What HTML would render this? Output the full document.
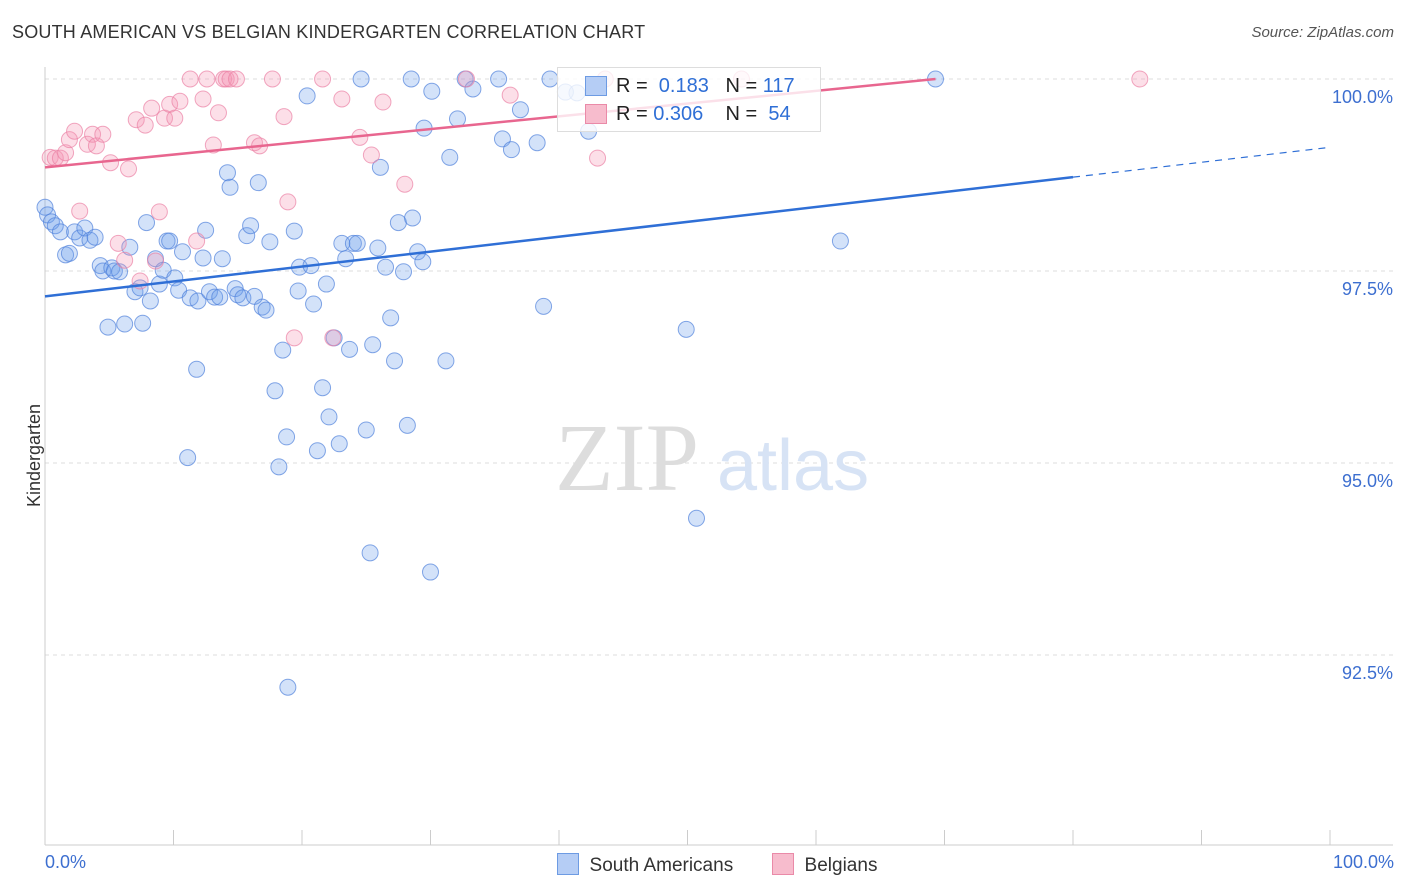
<!DOCTYPE html>
<html><head><meta charset="utf-8"><style>
body{margin:0;background:#fff;font-family:"Liberation Sans",sans-serif;}
#wrap{position:relative;width:1406px;height:892px;overflow:hidden;}
.t{position:absolute;white-space:nowrap;}
</style></head><body>
<div id="wrap">
<div class="t" style="left:12px;top:22px;font-size:18px;color:#333;letter-spacing:0.2px">SOUTH AMERICAN VS BELGIAN KINDERGARTEN CORRELATION CHART</div>
<div class="t" style="right:12px;top:24px;font-size:15px;color:#555;font-style:italic">Source: ZipAtlas.com</div>
<svg id="svg" width="1406" height="892" style="position:absolute;left:0;top:0"></svg>
</div>
<script>
const blueX=[0.0,0.2,0.5,0.8,1.2,1.6,1.9,2.3,2.7,3.1,3.5,3.9,4.3,4.5,4.9,5.2,5.4,5.8,6.2,6.6,7.0,7.4,7.6,7.9,8.2,8.6,8.9,9.2,9.5,9.7,10.1,10.4,10.7,11.1,11.3,11.8,11.9,12.3,12.5,12.8,13.2,13.6,13.8,14.2,14.4,14.8,15.0,15.4,15.7,16.0,16.3,16.6,16.9,17.2,17.5,17.9,18.2,18.5,18.8,18.9,19.4,19.7,19.8,20.4,20.7,20.9,21.2,21.6,21.9,22.1,22.5,22.9,23.1,23.4,23.7,24.0,24.3,24.6,25.0,25.3,25.5,25.9,26.1,26.5,26.9,27.2,27.5,27.9,28.2,28.5,28.6,29.0,29.4,29.5,30.0,30.1,31.2,31.5,32.1,32.7,33.3,35.3,35.6,36.3,37.0,38.3,38.8,39.3,40.5,41.4,42.3,49.9,50.7,61.9,69.3];
const blueY=[98.33,98.23,98.14,98.09,98.01,97.71,97.73,98.01,97.93,98.06,97.90,97.94,97.57,97.50,96.77,97.54,97.50,97.49,96.81,97.81,97.23,97.28,96.82,98.13,97.11,97.66,97.33,97.51,97.89,97.89,97.41,97.25,97.75,95.07,97.15,96.22,97.11,97.67,98.03,97.23,97.16,97.16,97.66,98.78,98.59,97.27,97.19,97.15,97.96,98.09,97.17,98.65,97.03,96.99,97.88,95.94,94.95,96.47,95.34,92.08,98.02,97.24,97.55,99.78,97.57,97.07,95.16,95.98,97.33,95.60,96.63,95.25,97.86,97.66,96.48,97.86,97.86,100,95.43,93.83,96.54,97.80,98.85,97.55,96.89,96.33,98.13,97.49,95.49,100,98.19,97.75,97.62,99.36,93.58,99.84,96.33,98.98,99.48,100,99.87,100,99.22,99.08,99.60,99.17,97.04,100,99.83,99.82,99.32,96.74,94.28,97.89,100];
const pinkX=[0.4,0.8,1.2,1.6,1.9,2.3,2.7,3.3,3.7,4.0,4.5,5.1,5.7,6.2,6.5,7.1,7.4,7.8,8.3,8.6,8.9,9.3,9.7,10.1,10.5,11.3,11.8,12.3,12.6,13.1,13.5,13.9,14.1,14.4,14.9,16.3,16.7,17.7,18.6,18.9,19.4,21.6,22.4,23.1,24.5,25.4,26.3,28.0,32.8,36.2,43.0,43.6,54.2,85.2];
const pinkY=[98.98,98.97,98.97,99.04,99.21,99.32,98.28,99.15,99.28,99.13,99.28,98.91,97.86,97.64,98.83,99.47,97.37,99.40,99.62,97.63,98.27,99.49,99.67,99.49,99.71,100,97.89,99.74,100,99.14,99.56,100,100,100,100,99.17,99.13,100,99.51,98.40,96.63,100,96.63,99.74,99.24,99.01,99.70,98.63,100,99.79,98.97,100,100,100];
const blueTrend=[97.17,99.11]; // y at x=0 and x=100
const pinkTrend=[98.85,100.0]; // y at x=0 and x=69.3
const yTicks=[100,97.5,95,92.5];
const yTickLabels=["100.0%","97.5%","95.0%","92.5%"];

const X0=45,X1=1330;
const sx=v=>X0+(v/100)*(X1-X0);
const sy=v=>79+(100-v)*76.8;
const svg=document.getElementById('svg');
const NS='http://www.w3.org/2000/svg';
function mk(tag,attrs,parent){const e=document.createElementNS(NS,tag);for(const k in attrs)e.setAttribute(k,attrs[k]);(parent||svg).appendChild(e);return e;}

// gridlines
yTicks.forEach((t,i)=>{
  const g=mk('line',{x1:45,x2:1393,y1:sy(t),y2:sy(t),stroke:'#ddd','stroke-dasharray':'4,4'});
  
  
  const tx=mk('text',{x:1393,y:sy(t)+24,'text-anchor':'end','font-size':18,fill:'#3d6fd0','font-family':'Liberation Sans, sans-serif'});
  tx.textContent=yTickLabels[i];
  
  
});
// axes
mk('line',{x1:45,x2:45,y1:67,y2:845,stroke:'#ccc'});
mk('line',{x1:45,x2:1393,y1:845,y2:845,stroke:'#ccc'});
for(let i=0;i<=10;i++){const x=sx(i*10);mk('line',{x1:x,x2:x,y1:830,y2:845,stroke:'#ccc'});}
// watermark
const wm=mk('text',{x:555,y:490,'font-size':96,fill:'#ddd','font-family':'Liberation Serif, serif'});wm.textContent='ZIP';

const wm2=mk('text',{x:717,y:490,'font-size':72,fill:'#d7e3f5','font-family':'Liberation Sans, sans-serif'});wm2.textContent='atlas';


// points
blueX.forEach((x,i)=>{const c=mk('circle',{cx:sx(x),cy:sy(blueY[i]),r:8,fill:'rgba(110,160,235,0.3)',stroke:'rgba(80,130,220,0.7)','stroke-width':1});
  });
pinkX.forEach((x,i)=>{const c=mk('circle',{cx:sx(x),cy:sy(pinkY[i]),r:8,fill:'rgba(245,150,180,0.3)',stroke:'rgba(235,130,165,0.7)','stroke-width':1});
  });

// trend lines
const bAt=x=>blueTrend[0]+(blueTrend[1]-blueTrend[0])*x/100;
let l=mk('line',{x1:sx(0),y1:sy(bAt(0)),x2:sx(80),y2:sy(bAt(80)),stroke:'#2f6fd6','stroke-width':2.5});

l=mk('line',{x1:sx(80),y1:sy(bAt(80)),x2:sx(100),y2:sy(bAt(100)),stroke:'#2f6fd6','stroke-width':1.2,'stroke-dasharray':'7,6'});

l=mk('line',{x1:sx(0),y1:sy(pinkTrend[0]),x2:sx(69.3),y2:sy(pinkTrend[1]),stroke:'#e8668f','stroke-width':2.5});

</script>
<div class="t" style="left:-17px;top:445px;font-size:18px;color:#333;transform:rotate(-90deg)">Kindergarten</div>
<div class="t" style="left:45px;top:852px;font-size:18px;color:#3d6fd0">0.0%</div>
<div class="t" style="right:12px;top:852px;font-size:18px;color:#3d6fd0">100.0%</div>
<div style="position:absolute;left:557px;top:67px;width:262px;height:63px;border:1px solid #ddd;background:rgba(255,255,255,0.8);font-size:20px;color:#222">
 <div style="position:absolute;left:27px;top:8px;width:20px;height:18px;background:#b5cdf5;border:1px solid #6d9be3"></div>
 <div class="t" style="left:58px;top:7px">R = &nbsp;<span style="color:#2f6fd6">0.183</span>&nbsp;&nbsp; N = <span style="color:#2f6fd6">117</span></div>
 <div style="position:absolute;left:27px;top:36px;width:20px;height:18px;background:#f7bccd;border:1px solid #ea8aa8"></div>
 <div class="t" style="left:58px;top:35px">R = <span style="color:#2f6fd6">0.306</span>&nbsp;&nbsp;&nbsp; N = &nbsp;<span style="color:#2f6fd6">54</span></div>
</div>
<div style="position:absolute;left:557px;top:853px;font-size:19px;color:#333">
 <span style="display:inline-block;width:20px;height:20px;background:#b5cdf5;border:1px solid #6d9be3;vertical-align:-4px"></span>&nbsp; South Americans</div>
<div style="position:absolute;left:772px;top:853px;font-size:19px;color:#333">
 <span style="display:inline-block;width:20px;height:20px;background:#f7bccd;border:1px solid #ea8aa8;vertical-align:-4px"></span>&nbsp; Belgians</div>
</body></html>
